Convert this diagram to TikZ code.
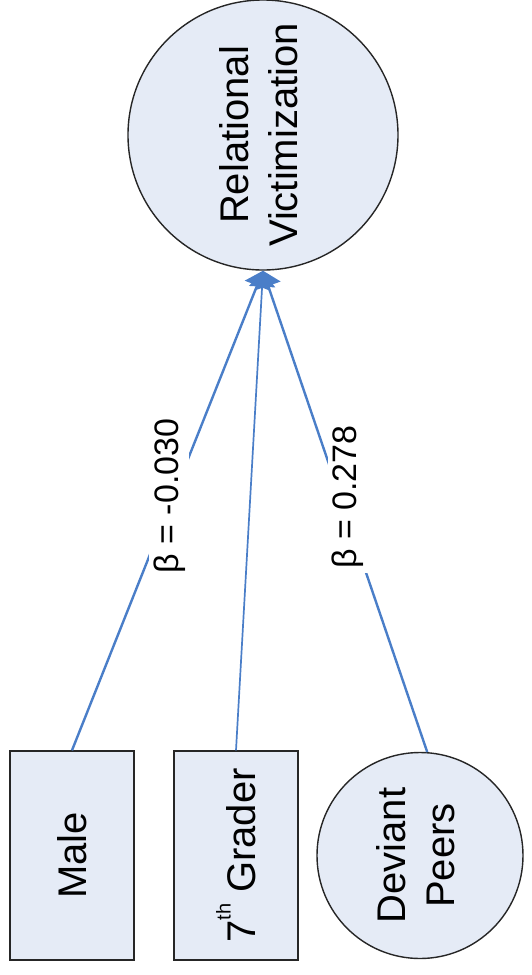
\documentclass[tikz,border=0pt]{standalone}
\usepackage{fontspec}
\setmainfont{Liberation Sans}
\usetikzlibrary{arrows.meta}
\definecolor{nodefill}{RGB}{229,235,246}
\definecolor{linkblue}{RGB}{74,126,200}
\begin{document}
\begin{tikzpicture}[x=1pt,y=-1pt,
  every node/.style={font=\fontsize{40}{49}\selectfont},
  shapebox/.style={draw=black!85, line width=1.4pt, fill=nodefill, inner sep=0pt},
  varbox/.style={shapebox, rectangle, minimum width=124pt, minimum height=209pt},
  varcirc/.style={shapebox, circle},
  link/.style={draw=linkblue, line width=2.4pt, -{Triangle[length=16pt,width=26pt]}},
  coef/.style={fill=white, inner sep=4pt, font=\fontsize{34}{40}\selectfont}]
\useasboundingbox (0,0) rectangle (532,975);
\node[varcirc, minimum size=270pt] (rv) at (263,135)
  {\rotatebox{90}{\begin{tabular}{@{}c@{}}Relational\\Victimization\end{tabular}}};
\node[varbox] (male) at (72,855.5) {\rotatebox{90}{Male}};
\node[varbox] (g7) at (236,855.5)
  {\rotatebox{90}{7\raisebox{25pt}{\fontsize{20}{20}\selectfont th} Grader}};
\node[varcirc, minimum size=206pt] (dev) at (420,855.5)
  {\rotatebox{90}{\begin{tabular}{@{}c@{}}Deviant\\Peers\end{tabular}}};
\draw[link] (male.north) -- node[coef, pos=0.53, xshift=-4pt] {\rotatebox{90}{β = -0.030}} (rv.south);
\draw[link, line width=1.7pt] (g7.north) -- (rv.south);
\draw[link] (dev.86) -- node[coef, pos=0.53, xshift=8pt] {\rotatebox{90}{β = 0.278}} (rv.south);
\end{tikzpicture}
\end{document}
